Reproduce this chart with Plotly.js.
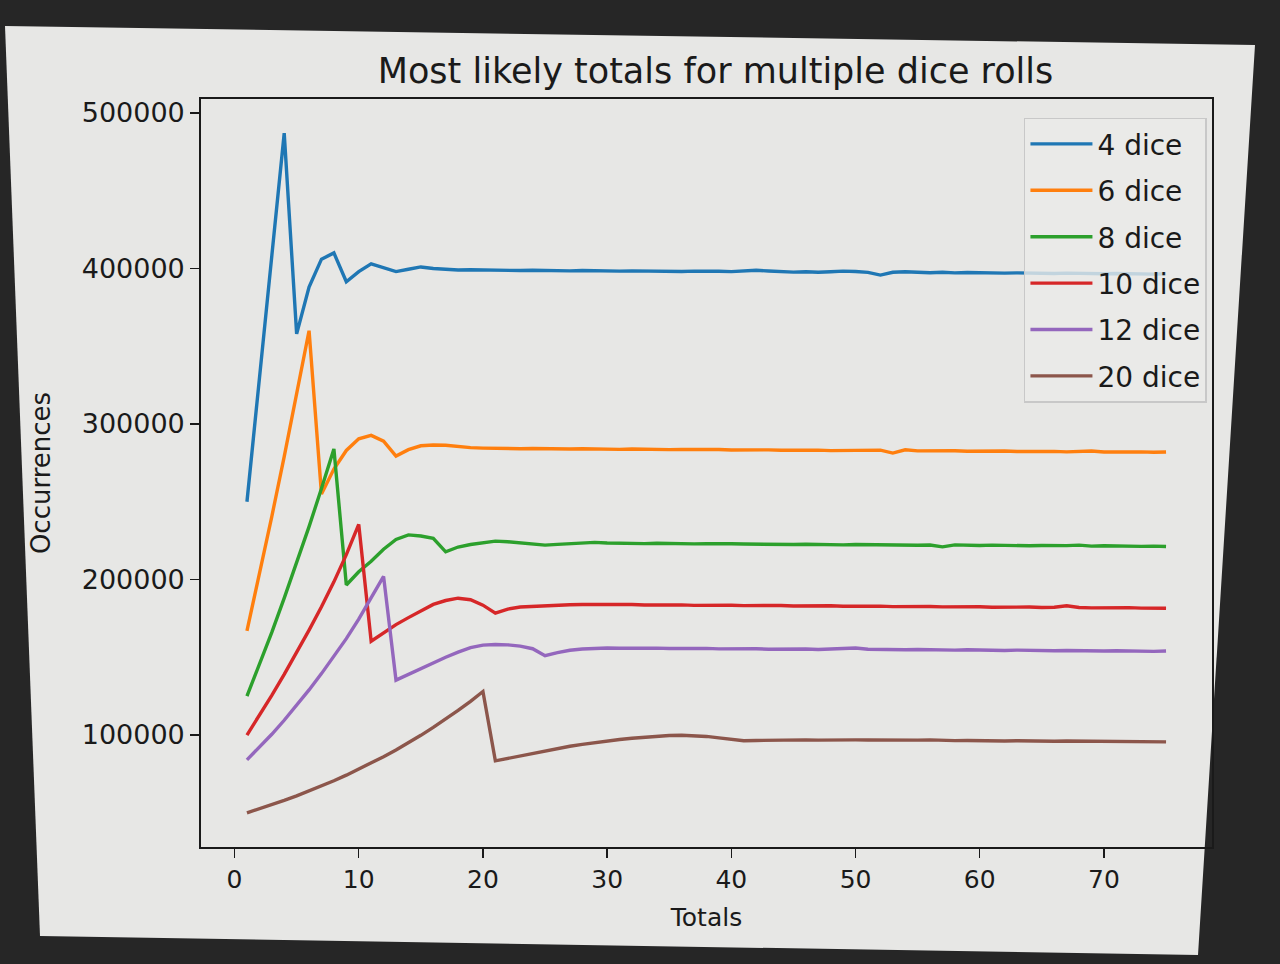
<!DOCTYPE html>
<html>
<head>
<meta charset="utf-8">
<script src="https://cdn.plot.ly/plotly-3.0.1.min.js"></script>
<style>
    html, body { margin: 0; padding: 0; background: #262626; overflow: hidden; }
    #screen {
        position: absolute; left: 0; top: 0; width: 1280px; height: 964px;
        background: #e7e7e5;
        clip-path: polygon(5px 26px, 1255px 45px, 1198px 955px, 40px 936px);
    }
    #myDiv { position: absolute; left: 0; top: 0; width: 1280px; height: 964px; }
</style>
</head>
<body>
<div id="screen"></div>
<div id="myDiv"></div>
<script>
// x values (totals)
const totals = [
    1, 2, 3, 4, 5, 6, 7, 8, 9, 10, 11, 12, 13, 14, 15, 16, 17, 18, 19, 20,
    21, 22, 23, 24, 25, 26, 27, 28, 29, 30, 31, 32, 33, 34, 35, 36, 37, 38, 39, 40,
    41, 42, 43, 44, 45, 46, 47, 48, 49, 50, 51, 52, 53, 54, 55, 56, 57, 58, 59, 60,
    61, 62, 63, 64, 65, 66, 67, 68, 69, 70, 71, 72, 73, 74, 75
];

const dice4 = [
    250000, 329000, 408000, 487000, 358000, 388000, 406000, 410000, 391500, 398000,
    403000, 400500, 398000, 399500, 401000, 400000, 399500, 399000, 399200, 399000,
    398800, 399000, 398700, 398900, 398600, 398800, 398500, 398700, 398400, 398600,
    398300, 398500, 398300, 398200, 398400, 398100, 398300, 398000, 398200, 398000,
    398300, 398900, 398400, 397900, 397700, 397900, 397600, 397900, 398300, 398100,
    397500, 395800, 397600, 397900, 397500, 397300, 397600, 397200, 397400, 397100,
    397300, 397000, 397200, 396900, 397100, 396800, 397000, 396700, 396900, 396600,
    396800, 396500, 396700, 396400, 396600
];

const dice6 = [
    167000, 203000, 240500, 279000, 319000, 360000, 255000, 271000, 283000, 290500,
    292700, 289000, 279400, 283500, 286000, 286500, 286300, 285500, 284800, 284500,
    284200, 284400, 284100, 284300, 284000, 284200, 283900, 284100, 283800, 284000,
    283700, 283900, 283600, 283800, 283500, 283700, 283800, 283400, 283600, 283300,
    283500, 283200, 283400, 283100, 283300, 283000, 283200, 282900, 283100, 283300,
    283000, 283200, 281300, 283400, 282700, 282900, 282600, 282800, 282500, 282700,
    282400, 282600, 282300, 282500, 282200, 282400, 282100, 282300, 282600, 282000,
    282200, 281900, 282100, 281800, 282000
];

const dice8 = [
    125000, 145000, 166000, 188000, 210500, 234000, 258500, 284000, 196500, 205000,
    211700, 219500, 225800, 228700, 228000, 226500, 217800, 220900, 222500, 223800,
    224700, 224300, 223600, 222800, 222100, 222600, 223200, 223600, 223900, 223500,
    223200, 223400, 223100, 223300, 223000, 223200, 222900, 223100, 222800, 223000,
    222800, 222600, 222900, 222700, 222500, 222700, 222400, 222600, 222300, 222500,
    222300, 222100, 222400, 222200, 222000, 222200, 221000, 222300, 222000, 221900,
    222100, 221800, 222000, 221700, 221900, 221600, 221800, 222100, 221500, 221700,
    221400, 221600, 221300, 221500, 221200
];

const dice10 = [
    100000, 112500, 125500, 139000, 153000, 167500, 182500, 198500, 216000, 235500,
    160300, 165500, 171000, 175500, 180000, 184000, 186500, 188000, 187000, 183500,
    178400, 181000, 182300, 182800, 183300, 183600, 183800, 183900, 184000, 183900,
    183700, 183900, 183600, 183800, 183500, 183700, 183400, 183600, 183300, 183500,
    183200, 183400, 183100, 183300, 183000, 183200, 182900, 183100, 182800, 183000,
    182700, 182900, 182600, 182800, 182500, 182700, 182400, 182600, 182300, 182500,
    182200, 182400, 182100, 182300, 182000, 182200, 183100, 182000, 181800, 182000,
    181700, 181900, 181600, 181800, 181500
];

const dice12 = [
    84000, 92000, 100500, 109500, 119000, 129000, 139500, 150500, 162000, 174500,
    188000, 202000, 135300, 139000, 142800, 146500, 150000, 153300, 156200, 157800,
    158200, 158000, 157200, 155500, 151000, 153000, 154500, 155300, 155800, 156000,
    155800, 156000, 155700, 155900, 155600, 155800, 155500, 155700, 155400, 155600,
    155300, 155500, 155200, 155400, 155100, 155300, 155000, 155200, 155400, 156000,
    155200, 154900, 155100, 154800, 155000, 154700, 154900, 154600, 154800, 154500,
    154700, 154400, 154600, 154300, 154500, 154200, 154400, 154100, 154300, 154000,
    154200, 153900, 154100, 153800, 154000
];

const dice20 = [
    50000, 52500, 55200, 58000, 60900, 64000, 67200, 70600, 74200, 78000,
    81900, 86100, 90400, 95000, 99800, 104900, 110200, 115800, 121700, 128000,
    83400, 85000, 86700, 88400, 90000, 91500, 92800, 94000, 95200, 96200,
    97100, 97900, 98600, 99200, 99700, 99900, 99700, 99100, 98200, 97000,
    96300, 96500, 96700, 96600, 96800, 96900, 96700, 96900, 97100, 96900,
    96800, 96700, 96800, 96600, 96700, 96900, 96500, 96400, 96500, 96300,
    96400, 96200, 96300, 96100, 96200, 96000, 96200, 96100, 95900, 96000,
    95800, 95900, 95700, 95800, 95600
];

const seriesNames = ["4 dice", "6 dice", "8 dice", "10 dice", "12 dice", "20 dice"];
const seriesValues = [dice4, dice6, dice8, dice10, dice12, dice20];
const seriesColors = ["#1f77b4", "#ff7f0e", "#2ca02c", "#d62728", "#9467bd", "#8c564b"];

const tickVals = [0, 10, 20, 30, 40, 50, 60, 70];
const yTickVals = [100000, 200000, 300000, 400000, 500000];

const data = seriesValues.map((vals, i) => ({
    type: "scatter",
    mode: "lines",
    name: seriesNames[i],
    legendgroup: seriesNames[i],
    x: totals,
    y: vals,
    line: { color: seriesColors[i], width: 3.4 },
    hoverinfo: "none",
}));

const font = "DejaVu Sans, sans-serif";

const layout = {
    width: 1280,
    height: 964,
    margin: { l: 201, r: 68, t: 99, b: 117 },
    paper_bgcolor: "rgba(0,0,0,0)",
    plot_bgcolor: "rgba(0,0,0,0)",
    font: { family: font, color: "#1a1a1a" },
    showlegend: true,
    title: {
        text: "Most likely totals for multiple dice rolls",
        font: { family: font, size: 35, color: "#1a1a1a" },
        x: 0.559,
        xanchor: "center",
        y: 0.927,
        yanchor: "middle",
    },
    xaxis: {
        range: [-2.7, 78.7],
        tickvals: tickVals,
        ticks: "outside",
        ticklen: 9,
        tickwidth: 1.5,
        tickcolor: "#1a1a1a",
        showline: true,
        mirror: true,
        linecolor: "#1a1a1a",
        linewidth: 1.8,
        showgrid: false,
        zeroline: false,
        tickfont: { family: font, size: 25, color: "#1a1a1a" },
        title: {
            text: "Totals",
            font: { family: font, size: 25, color: "#1a1a1a" },
            standoff: 16,
        },
    },
    yaxis: {
        range: [28000, 509000],
        tickvals: yTickVals,
        ticktext: yTickVals.map(String),
        ticks: "outside",
        ticklen: 9,
        tickwidth: 1.5,
        tickcolor: "#1a1a1a",
        showline: true,
        mirror: true,
        linecolor: "#1a1a1a",
        linewidth: 1.8,
        showgrid: false,
        zeroline: false,
        tickfont: { family: font, size: 27, color: "#1a1a1a" },
        title: {
            text: "Occurrences",
            font: { family: font, size: 26, color: "#1a1a1a" },
            standoff: 24,
        },
    },
    legend: {
        x: 0.995,
        xanchor: "right",
        y: 0.975,
        yanchor: "top",
        bgcolor: "rgba(235,235,233,0.8)",
        bordercolor: "#c8c8c8",
        borderwidth: 1.5,
        font: { family: font, size: 28, color: "#1a1a1a" },
        itemwidth: 62,
        tracegroupgap: 7,
    },
};

Plotly.newPlot("myDiv", data, layout, {
    displayModeBar: false,
    staticPlot: true,
});
</script>
</body>
</html>
